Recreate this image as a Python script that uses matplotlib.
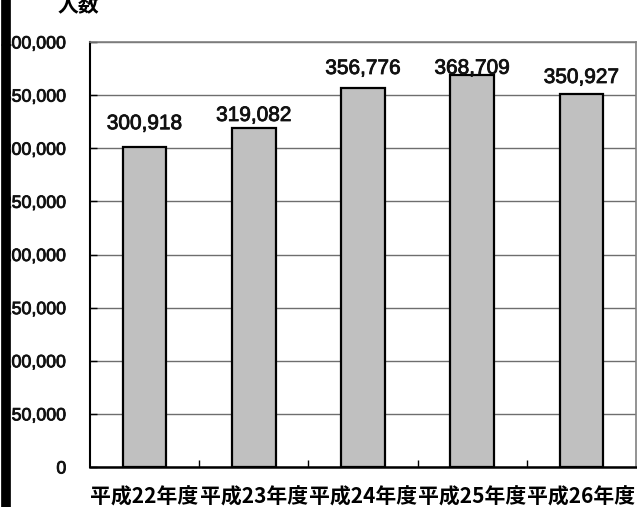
import matplotlib
matplotlib.use("Agg")
import matplotlib.pyplot as plt
import matplotlib.patheffects as pe
from matplotlib.ticker import FixedLocator, FuncFormatter

categories = ["平成22年度", "平成23年度", "平成24年度", "平成25年度", "平成26年度"]
values = [300918, 319082, 356776, 368709, 350927]
yticks = [0, 50000, 100000, 150000, 200000, 250000, 300000, 350000, 400000]
label_offsets_pt = [17, 9, 14, 5, 12]

plt.rcParams['font.family'] = ['Liberation Sans', 'Noto Sans CJK JP', 'DejaVu Sans']

fig = plt.figure(figsize=(6.37, 5.07), dpi=100)
ax = fig.add_axes([90/637, 40/507, 546/637, 425/507])

x = list(range(len(categories)))
ax.bar(x, values, width=0.40, color="#c0c0c0", edgecolor="black", linewidth=1.6, zorder=3)

heavy = [pe.withStroke(linewidth=0.6, foreground="#111111")]
for xi, v, off in zip(x, values, label_offsets_pt):
    ax.annotate(f"{v:,}", (xi, v), xytext=(0, off), textcoords="offset points",
                ha="center", va="center", fontsize=15,
                family=['Liberation Sans', 'DejaVu Sans'], color="#111111", zorder=4,
                path_effects=heavy)

ax.set_xlim(-0.5, len(categories) - 0.5)
ax.set_ylim(0, 400000)
ax.set_yticks(yticks)
ax.yaxis.set_major_formatter(FuncFormatter(lambda v, p: f"{int(v):,}"))
ax.grid(axis="y", color="#6e6e6e", linewidth=1.0, zorder=1)
ax.tick_params(axis="y", direction="in", length=5, width=1, pad=17, labelsize=12.8)
for lbl in ax.get_yticklabels():
    lbl.set_color("#111111")
    lbl.set_path_effects(heavy)

ax.set_xticks(x)
ax.set_xticklabels(categories, fontsize=15, fontweight="bold",
                   family=['Noto Sans CJK JP', 'DejaVu Sans'])
ax.tick_params(axis="x", which="major", length=0, pad=14)
ax.xaxis.set_minor_locator(FixedLocator([i + 0.5 for i in range(len(categories) - 1)]))
ax.tick_params(axis="x", which="minor", direction="in", length=5, width=1)

ax.spines["left"].set_color("black")
ax.spines["left"].set_linewidth(1.5)
ax.spines["bottom"].set_color("black")
ax.spines["bottom"].set_linewidth(1.8)
ax.spines["top"].set_color("#808080")
ax.spines["top"].set_linewidth(1.2)
ax.spines["right"].set_color("#808080")
ax.spines["right"].set_linewidth(1.2)

# left frame bar (drawn over the clipped tick labels) and axis title
fig.add_artist(plt.Line2D([5.5/637, 5.5/637], [0, 1], color="black", linewidth=7,
                          transform=fig.transFigure, zorder=10))
fig.text(78/637, 1 + 5/507, "人数", ha="center", va="top", fontsize=15, fontweight="bold",
         family=['Noto Sans CJK JP', 'DejaVu Sans'])

fig.savefig("out.png", dpi=100)
